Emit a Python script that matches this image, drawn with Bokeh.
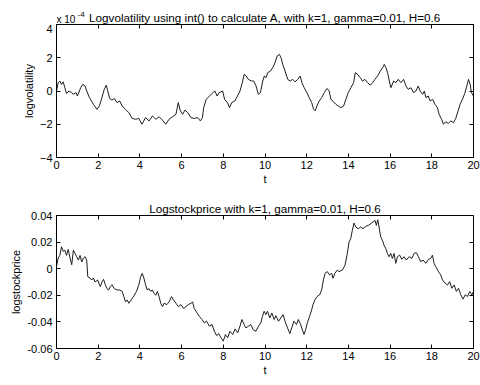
from bokeh.plotting import figure
from bokeh.layouts import column
from bokeh.models import Range1d, LinearAxis, FixedTicker, Label, CustomLabelingPolicy
from bokeh.embed import file_html
from bokeh.resources import INLINE

FONT = "Liberation Sans"

# log-volatility path, values in units of 1e-4
vol_t = [0, 0.08, 0.16, 0.24, 0.32, 0.4, 0.48, 0.6, 0.72, 0.8, 0.94, 1.0, 1.1, 1.16, 1.26, 1.37, 1.45, 1.58,
         1.77, 1.94, 2.06, 2.18, 2.29, 2.39, 2.45, 2.55, 2.66, 2.77, 2.9, 3.03, 3.15, 3.3, 3.47, 3.63, 3.8,
         3.95, 4.1, 4.27, 4.44, 4.6, 4.76, 4.92, 5.08, 5.24, 5.4, 5.56, 5.73, 5.84, 5.94, 6.05, 6.16, 6.29,
         6.45, 6.6, 6.77, 6.9, 7.0, 7.06, 7.18, 7.34, 7.5, 7.6, 7.7, 7.8, 7.97, 8.06, 8.2, 8.3, 8.4, 8.55,
         8.68, 8.8, 8.9, 9.0, 9.1, 9.2, 9.35, 9.46, 9.57, 9.68, 9.78, 9.89, 9.97, 10.05, 10.13, 10.26, 10.37,
         10.48, 10.58, 10.69, 10.77, 10.85, 10.96, 11.09, 11.21, 11.33, 11.44, 11.57, 11.69, 11.77, 11.88,
         12.01, 12.12, 12.24, 12.33, 12.41, 12.49, 12.6, 12.72, 12.84, 12.97, 13.08, 13.16, 13.29, 13.4,
         13.51, 13.64, 13.77, 13.88, 13.99, 14.12, 14.25, 14.33, 14.44, 14.57, 14.68, 14.79, 14.92, 15.05,
         15.16, 15.27, 15.4, 15.53, 15.64, 15.72, 15.8, 15.88, 15.96, 16.04, 16.17, 16.28, 16.39, 16.52,
         16.65, 16.76, 16.87, 17.0, 17.12, 17.24, 17.35, 17.44, 17.56, 17.64, 17.72, 17.83, 17.92, 18.04,
         18.15, 18.27, 18.35, 18.47, 18.56, 18.67, 18.79, 18.91, 19.04, 19.15, 19.26, 19.36, 19.47, 19.58,
         19.68, 19.76, 19.84, 19.9, 20.0]
vol_e4 = [0, 0.5, 0.6, 0.4, 0.55, 0.2, -0.15, 0, -0.1, -0.2, -0.1, -0.3, 0, 0.2, 0.4, 0.3, 0, -0.4,
          -0.8, -1.1, -0.9, -0.4, 0.1, 0.35, 0.04, -0.45, -0.55, -0.45, -0.7, -0.6, -0.9, -1.1, -1.3, -1.65, -1.7,
          -1.65, -2.0, -1.6, -1.8, -1.5, -1.7, -1.55, -1.75, -2.0, -1.7, -1.55, -1.4, -0.7, -1.2, -1.4, -1.15, -1.3,
          -1.6, -1.65, -1.6, -1.8, -1.6, -1.0, -0.5, -0.3, -0.1, 0, -0.3, -0.1, 0, -0.5, -0.7, -1.0, -0.7, -0.6,
          -0.3, 0, 0.45, 1.0, 0.9, 0.7, 0.6, 0.6, 0.3, -0.2, -0.1, 0.6, 0.9, 0.8, 1.1, 1.2, 1.4,
          1.7, 2.1, 2.2, 2.0, 1.6, 1.2, 0.7, 0.6, 0.7, 0.55, 0.7, 0.9, 0.5, 0.2,
          -0.1, -0.4, -0.7, -1.1, -1.2, -0.9, -0.6, -0.4, -0.1, 0.15, 0, -0.5, -0.65, -0.8,
          -0.9, -1.0, -0.9, -0.5, -0.1, 0.2, 0.5, 1.1, 1.0, 0.8, 0.6, 0.7, 0.5, 0.35,
          0.5, 0.7, 0.9, 1.2, 1.4, 1.6, 1.4, 1.1, 0.6, 0.2, 0.6, 0.5, 0.7, 0.5,
          0.7, 0.3, 0.1, 0.2, -0.1, 0, 0.3, 0, -0.2, 0, -0.4, -0.3, -0.6, -0.5,
          -0.8, -1.0, -1.4, -1.7, -2.0, -1.85, -1.95, -1.8, -1.9, -1.65, -1.2, -0.8, -0.5, -0.15,
          0.3, 0.7, 0.4, -0.1, -0.3]

# log stock price path
price_t = [0, 0.08, 0.16, 0.24, 0.32, 0.4, 0.48, 0.56, 0.65, 0.73, 0.81, 0.89, 0.97, 1.05, 1.13, 1.21, 1.29,
           1.37, 1.45, 1.5, 1.6, 1.69, 1.77, 1.85, 1.97, 2.1, 2.18, 2.26, 2.34, 2.42, 2.5, 2.58, 2.66, 2.77,
           2.9, 3.03, 3.15, 3.23, 3.31, 3.39, 3.47, 3.58, 3.71, 3.84, 3.95, 4.03, 4.11, 4.19, 4.27, 4.35,
           4.44, 4.52, 4.6, 4.68, 4.76, 4.84, 4.92, 5.0, 5.08, 5.16, 5.29, 5.4, 5.52, 5.61, 5.73, 5.84,
           5.97, 6.1, 6.21, 6.32, 6.45, 6.53, 6.61, 6.69, 6.85, 6.98, 7.09, 7.2, 7.33, 7.46, 7.57, 7.68,
           7.78, 7.89, 8.0, 8.1, 8.21, 8.32, 8.45, 8.57, 8.69, 8.8, 8.89, 9.0, 9.08, 9.21, 9.32, 9.43,
           9.56, 9.69, 9.8, 9.88, 9.96, 10.04, 10.12, 10.23, 10.33, 10.44, 10.52, 10.65, 10.76, 10.87,
           10.96, 11.08, 11.19, 11.28, 11.39, 11.51, 11.6, 11.71, 11.79, 11.87, 11.95, 12.03, 12.14,
           12.24, 12.3, 12.4, 12.51, 12.62, 12.72, 12.8, 12.88, 12.99, 13.1, 13.2, 13.26, 13.35, 13.47,
           13.55, 13.71, 13.84, 13.95, 14.03, 14.11, 14.19, 14.27, 14.35, 14.48, 14.59, 14.7, 14.83,
           14.96, 15.07, 15.18, 15.28, 15.34, 15.41, 15.47, 15.55, 15.63, 15.71, 15.79, 15.87, 15.95,
           16.03, 16.11, 16.19, 16.27, 16.35, 16.46, 16.56, 16.67, 16.78, 16.91, 17.04, 17.15, 17.26,
           17.36, 17.47, 17.58, 17.71, 17.84, 17.95, 18.03, 18.11, 18.19, 18.32, 18.43, 18.51, 18.64,
           18.75, 18.86, 18.96, 19.07, 19.18, 19.28, 19.39, 19.5, 19.6, 19.71, 19.82, 19.92, 20.0]
price = [0.0015, 0.008, 0.01, 0.0165, 0.013, 0.014, 0.010, 0.0145, 0.008, 0.003, 0.014, 0.0115, 0.009, 0.0065,
         0.01, 0.005, 0.008, 0.009, 0.0065, -0.006, -0.007, -0.0085, -0.007, -0.01, -0.0085, -0.0135, -0.01,
         -0.008, -0.012, -0.015, -0.016, -0.0135, -0.012, -0.015, -0.016, -0.016, -0.017, -0.021, -0.025,
         -0.0235, -0.026, -0.0235, -0.0205, -0.017, -0.012, -0.0065, -0.0035, -0.007, -0.012, -0.016, -0.015,
         -0.017, -0.016, -0.0185, -0.02, -0.017, -0.021, -0.026, -0.0285, -0.026, -0.027, -0.025, -0.021,
         -0.0235, -0.026, -0.0285, -0.027, -0.03, -0.0285, -0.027, -0.026, -0.025, -0.03, -0.032, -0.0358,
         -0.0382, -0.0407, -0.0395, -0.0432, -0.042, -0.047, -0.0503, -0.0488, -0.052, -0.0545, -0.0495,
         -0.052, -0.047, -0.0495, -0.0453, -0.0483, -0.0432, -0.0382, -0.042, -0.0445, -0.0432, -0.042,
         -0.0458, -0.047, -0.0432, -0.0407, -0.0358, -0.032, -0.0345, -0.032, -0.037, -0.0333, -0.0382,
         -0.0353, -0.0395, -0.037, -0.0345, -0.0395, -0.0445, -0.0488, -0.0445, -0.0395, -0.042, -0.0382,
         -0.042, -0.0458, -0.0495, -0.0458, -0.0407, -0.0358, -0.0308, -0.027, -0.0233, -0.0208, -0.0196,
         -0.0159, -0.0084, -0.0035, -0.0022, -0.0047, -0.0035, -0.0072, -0.0035, -0.001, -0.0022, -0.001,
         0.0027, 0.0115, 0.0201, 0.0226, 0.0289, 0.0343, 0.0314, 0.0301, 0.0314, 0.0301, 0.0318, 0.0326,
         0.0339, 0.0351, 0.0363, 0.0326, 0.0368, 0.0314, 0.0239, 0.0214, 0.0177, 0.0152, 0.0115, 0.009,
         0.0115, 0.0077, 0.0115, 0.004, 0.009, 0.0102, 0.007, 0.009, 0.0065, 0.009, 0.0077, 0.0115, 0.012,
         0.009, 0.0052, 0.0065, 0.004, 0.007, 0.0077, 0.0102, 0.004, 0.0015, -0.0022, -0.0047, -0.0084,
         -0.0109, -0.0122, -0.0097, -0.0147, -0.0122, -0.0171, -0.0147, -0.0196, -0.0229, -0.0196, -0.0209,
         -0.0171, -0.0196, -0.0171]

t_ticks = [0, 2, 4, 6, 8, 10, 12, 14, 16, 18, 20]
vol_ticks = [-4, -2, 0, 2, 4]
price_ticks = [-0.06, -0.04, -0.02, 0, 0.02, 0.04]
price_tick_labels = ["-0.06", "-0.04", "-0.02", "0", "0.02", "0.04"]

vol_title = "Logvolatility using int() to calculate A, with k=1, gamma=0.01, H=0.6"
price_title = "Logstockprice with k=1, gamma=0.01, H=0.6"

# the box axes on the top and right carry tick marks only
NO_LABELS = CustomLabelingPolicy(code="""
    for (const i of Array.from(indices)) indices.unset(i)
    return indices
""")


def style_axis(axis, ticks, show_labels=True):
    axis.ticker = FixedTicker(ticks=ticks)
    axis.axis_line_color = "black"
    axis.major_tick_line_color = "black"
    axis.major_tick_in = 4
    axis.major_tick_out = 0
    axis.minor_tick_line_color = None
    axis.major_label_text_font = FONT
    axis.major_label_text_font_size = "11px"
    axis.major_label_text_color = "black"
    axis.major_label_standoff = 4
    axis.axis_label_text_font = FONT
    axis.axis_label_text_font_size = "11px"
    axis.axis_label_text_font_style = "normal"
    axis.axis_label_text_color = "black"
    axis.axis_label_standoff = 2
    if not show_labels:
        axis.major_label_policy = NO_LABELS
        axis.major_label_standoff = 0
        axis.major_label_text_font_size = "1px"


def make_panel(title, height, top, bottom, y_range, y_ticks, ylabel, y_labels=None):
    p = figure(width=480, height=height, x_range=Range1d(0, 20), y_range=y_range,
               output_backend="svg", toolbar_location=None, title=title,
               min_border_left=56, min_border_right=7, min_border_top=top, min_border_bottom=bottom)
    if title is not None:
        p.title.align = "center"
        p.title.text_font = FONT
        p.title.text_font_size = "11.7px"
        p.title.text_font_style = "normal"
        p.title.text_color = "black"
        p.title.standoff = 2
        p.title.offset = 0
    elif p.title is not None:
        p.title.visible = False
    p.xgrid.visible = False
    p.ygrid.visible = False
    p.outline_line_color = "black"
    p.outline_line_alpha = 1
    p.background_fill_color = "white"
    p.border_fill_color = "white"

    style_axis(p.xaxis[0], t_ticks)
    p.xaxis.axis_label = "t"
    p.xaxis.major_label_standoff = 3
    p.xaxis.axis_label_standoff = 1
    style_axis(p.yaxis[0], y_ticks)
    p.yaxis.axis_label = ylabel
    if y_labels is not None:
        p.yaxis.major_label_overrides = {v: s for v, s in zip(y_ticks, y_labels)}

    # tick-only axes pinned to the frame edges, so they take no margin space
    right = LinearAxis(fixed_location=20)
    style_axis(right, y_ticks, show_labels=False)
    p.add_layout(right, "right")
    top_axis = LinearAxis(fixed_location=y_range.end)
    style_axis(top_axis, t_ticks, show_labels=False)
    p.add_layout(top_axis, "above")
    return p


# header strip over the upper panel: title plus the "x 10^-4" exponent note
HEAD_H = 24
head = figure(width=480, height=HEAD_H, x_range=Range1d(0, 20), y_range=Range1d(0, HEAD_H),
              output_backend="svg", toolbar_location=None, x_axis_type=None, y_axis_type=None,
              min_border_left=56, min_border_right=7, min_border_top=0, min_border_bottom=0)
head.outline_line_color = None
head.xgrid.visible = False
head.ygrid.visible = False
head.background_fill_color = "white"
head.border_fill_color = "white"
head.add_layout(Label(x=10, y=HEAD_H - 17, text=vol_title, text_align="center",
                      text_baseline="alphabetic", text_font=FONT, text_font_size="11.7px",
                      text_color="black"))
head.add_layout(Label(x=0, y=HEAD_H - 18.5, text="x 10", text_align="left", text_baseline="alphabetic",
                      text_font=FONT, text_font_size="10px", text_color="black"))
head.add_layout(Label(x=0, y=HEAD_H - 14, x_offset=21, text="-4", text_align="left",
                      text_baseline="alphabetic", text_font=FONT, text_font_size="8px",
                      text_color="black"))

p1 = make_panel(None, 190 - HEAD_H, 0, 33, Range1d(-4, 4), vol_ticks, "logvolatility")
p1.line(vol_t, vol_e4, line_color="#1e1e1e", line_width=1)

p2 = make_panel(price_title, 195, 25, 37, Range1d(-0.06, 0.04), price_ticks, "logstockprice",
                price_tick_labels)
p2.line(price_t, price, line_color="#1e1e1e", line_width=1)

layout = column(head, p1, p2, spacing=0)
open("out.html", "w").write(file_html(layout, INLINE))
